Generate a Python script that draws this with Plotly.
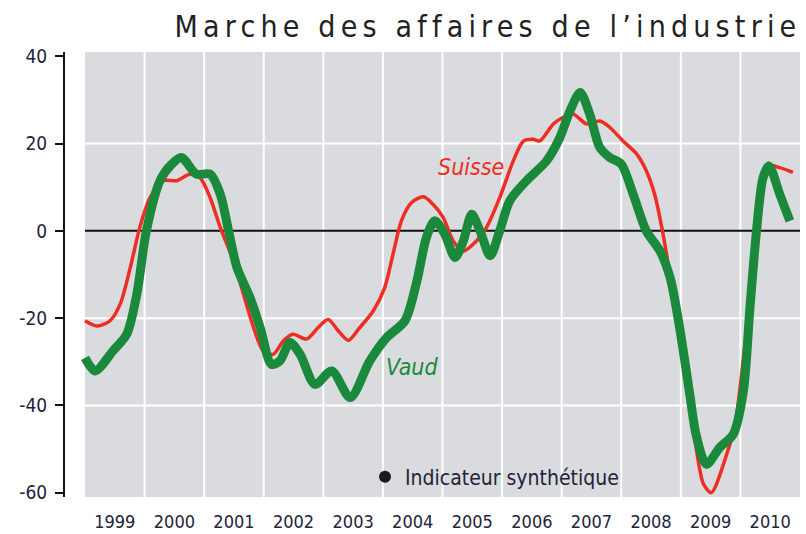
import plotly.graph_objects as go

# ---------------- data ----------------
vaud_t = [1999.0, 1999.17, 1999.47, 1999.70, 1999.87, 2000.03, 2000.26, 2000.45, 2000.62, 2000.87,
          2001.10, 2001.27, 2001.41, 2001.55, 2001.77, 2001.94, 2002.13, 2002.27, 2002.44, 2002.61,
          2002.86, 2003.14, 2003.45, 2003.78, 2004.06, 2004.37, 2004.57, 2004.73, 2004.87, 2005.04,
          2005.21, 2005.35, 2005.49, 2005.63, 2005.80, 2005.96, 2006.13, 2006.41, 2006.75, 2006.97,
          2007.14, 2007.31, 2007.47, 2007.64, 2007.81, 2008.00, 2008.20, 2008.42, 2008.65, 2008.82,
          2008.98, 2009.15, 2009.26, 2009.43, 2009.65, 2009.88, 2010.05, 2010.16, 2010.27, 2010.38,
          2010.48, 2010.66, 2010.83]
vaud_v = [-29.1, -32.1, -27.5, -23.7, -14.5, 0.0, 11.5, 15.2, 16.8, 13.0,
          13.0, 8.4, 0.0, -8.4, -15.3, -22.2, -30.6, -29.8, -25.6, -28.3,
          -35.2, -32.1, -38.2, -29.8, -24.5, -20.6, -11.5, -1.5, 2.3, -0.8,
          -6.1, -2.3, 3.8, 0.0, -5.7, 0.0, 6.9, 11.5, 16.1, 21.4,
          27.5, 31.7, 26.8, 19.1, 16.8, 15.3, 8.4, 0.0, -4.6, -10.7,
          -22.2, -37.5, -47.0, -53.5, -49.7, -46.6, -36.7, -17.6, 0.0, 12.2,
          14.9, 8.4, 2.3]

suisse_t = [1999.0, 1999.2, 1999.42, 1999.59, 1999.76, 1999.92, 2000.09, 2000.31, 2000.54, 2000.76,
            2000.93, 2001.10, 2001.27, 2001.49, 2001.66, 2001.83, 2001.99, 2002.16, 2002.33, 2002.49,
            2002.72, 2002.91, 2003.08, 2003.25, 2003.42, 2003.61, 2003.84, 2004.03, 2004.17, 2004.31,
            2004.48, 2004.68, 2004.84, 2005.01, 2005.18, 2005.35, 2005.57, 2005.74, 2005.96, 2006.19,
            2006.36, 2006.52, 2006.63, 2006.86, 2007.02, 2007.19, 2007.42, 2007.64, 2007.81, 2008.03,
            2008.26, 2008.42, 2008.56, 2008.68, 2008.76, 2008.85, 2008.98, 2009.15, 2009.26, 2009.38,
            2009.51, 2009.77, 2009.91, 2010.02, 2010.16, 2010.27, 2010.38, 2010.48, 2010.66, 2010.88]
suisse_v = [-20.6, -21.8, -20.6, -16.8, -8.4, 0.8, 7.6, 11.5, 11.5, 13.0,
            12.2, 7.6, 0.8, -6.9, -14.5, -22.2, -27.5, -28.3, -25.2, -23.7,
            -24.8, -22.2, -20.3, -22.9, -25.1, -22.2, -18.3, -13.0, -5.3, 2.3,
            6.5, 7.8, 6.1, 3.1, -2.3, -4.6, -2.3, 0.8, 7.6, 16.1,
            20.6, 21.0, 20.6, 24.5, 26.0, 26.8, 24.5, 25.2, 23.7, 20.6,
            17.6, 13.8, 8.4, 0.8, -5.3, -13.0, -22.0, -38.5, -50.0, -58.0,
            -60.0, -51.2, -44.3, -32.9, -15.0, 0.0, 11.0, 14.9, 14.5, 13.4]

years = [1999, 2000, 2001, 2002, 2003, 2004, 2005, 2006, 2007, 2008, 2009, 2010]
y_ticks = [40, 20, 0, -20, -40, -60]
h_grid = [20, -20, -40]

title_text = "Marche des affaires de l’industrie"
legend_text = "Indicateur synthétique"

# ---------------- style ----------------
FONT = "Liberation Sans Narrow, DejaVu Sans Condensed, Arial Narrow, sans-serif"
RED = "#ee2e24"
GREEN = "#1b893c"
GRAY = "#d9dbde"
TXT = "#23233a"

x_start, x_end = years[0], years[-1] + 1
y_lo, y_hi = -61, 41

fig = go.Figure()

fig.add_trace(go.Scatter(x=suisse_t, y=suisse_v, mode="lines", name="Suisse",
                         line=dict(color=RED, width=3.5, shape="spline", smoothing=0.8),
                         showlegend=False))
fig.add_trace(go.Scatter(x=vaud_t, y=vaud_v, mode="lines", name="Vaud",
                         line=dict(color=GREEN, width=9, shape="spline", smoothing=0.8),
                         showlegend=False))
fig.add_trace(go.Scatter(x=[None], y=[None], mode="markers", name=legend_text,
                         marker=dict(color="#1a1a1a", size=12), showlegend=True))

shapes = [dict(type="rect", xref="x", yref="y", x0=x_start, x1=x_end, y0=y_lo, y1=y_hi,
               fillcolor=GRAY, line=dict(width=0), layer="below")]
for yr in years[1:]:
    shapes.append(dict(type="line", xref="x", yref="y", x0=yr, x1=yr, y0=y_lo, y1=y_hi,
                       line=dict(color="white", width=2), layer="below"))
for g in h_grid:
    shapes.append(dict(type="line", xref="x", yref="y", x0=x_start, x1=x_end, y0=g, y1=g,
                       line=dict(color="white", width=2), layer="below"))
shapes.append(dict(type="line", xref="x", yref="y", x0=x_start, x1=x_end, y0=0, y1=0,
                   line=dict(color="#111111", width=2), layer="below"))

fig.update_layout(
    width=806, height=534,
    margin=dict(l=65, r=6, t=52, b=37),
    paper_bgcolor="white", plot_bgcolor="white",
    shapes=shapes,
    title=dict(text=title_text, x=488 / 806, xref="container", xanchor="center",
               y=1 - 26 / 534, yref="container", yanchor="middle",
               font=dict(family=FONT, size=30, color="#222222")),
    xaxis=dict(range=[x_start - 20 / 59.58, x_end], tickvals=[y + 0.5 for y in years],
               ticktext=[str(y) for y in years], showgrid=False, zeroline=False,
               showline=False, ticks="", automargin=False, ticklabelstandoff=12,
               tickfont=dict(family=FONT, size=18, color=TXT)),
    yaxis=dict(range=[y_lo, y_hi], tickvals=y_ticks, ticktext=[str(v) for v in y_ticks],
               showgrid=False, zeroline=False, showline=True, linecolor="#111111",
               linewidth=2, ticks="outside", ticklen=8, tickwidth=2, tickcolor="#111111",
               automargin=False, ticklabelstandoff=4,
               tickfont=dict(family=FONT, size=19, color=TXT)),
    legend=dict(x=(365 - 65) / 735, y=(497 - 477) / 445, xanchor="left", yanchor="middle",
                bgcolor="rgba(0,0,0,0)", font=dict(family=FONT, size=21, color=TXT)),
    annotations=[
        dict(text="<i>Suisse</i>", x=2005.48, y=14.7, xref="x", yref="y", showarrow=False,
             font=dict(family=FONT, size=23, color=RED)),
        dict(text="<i>Vaud</i>", x=2004.49, y=-31.3, xref="x", yref="y", showarrow=False,
             font=dict(family=FONT, size=23, color=GREEN)),
    ],
)

post = ("document.body.style.margin='0';"
        "var t=document.querySelector('.gtitle');"
        "if(t){t.style.letterSpacing='5.2px';}")
fig.write_html("out.html", post_script=post, config={"displayModeBar": False})
